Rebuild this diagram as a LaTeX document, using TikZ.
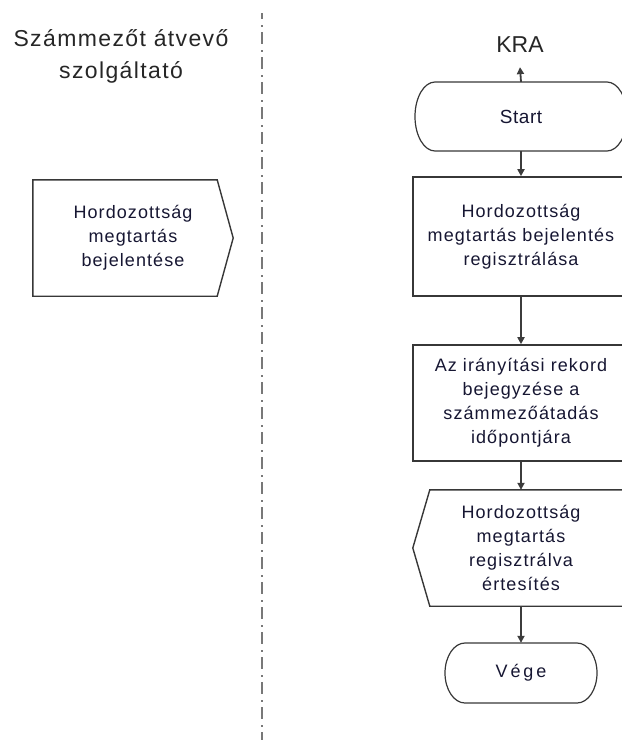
\documentclass[tikz,border=0pt]{standalone}
\usepackage{fontspec}
\setmainfont{Liberation Sans}[LetterSpace=6]
\usetikzlibrary{arrows.meta}
\definecolor{txt}{RGB}{22,22,50}
\definecolor{edge}{RGB}{55,55,55}
\definecolor{conn}{RGB}{60,60,60}
\definecolor{lane}{RGB}{120,120,120}
\begin{document}
\begin{tikzpicture}[x=1pt,y=-1pt,
  boxtext/.style={align=center,text=txt,inner sep=0pt,
    font=\fontsize{18}{24}\selectfont},
  procbox/.style={boxtext,draw=edge,line width=1.6pt,minimum width=216pt},
  shapeline/.style={draw=edge,line width=1.4pt,line join=miter},
  termline/.style={draw=edge,line width=1.2pt},
  arr/.style={draw=conn,line width=1.8pt,-{Triangle[width=7pt,length=7pt]}},
  title/.style={align=center,text=black!85,inner sep=0pt,
    font=\fontsize{23}{32}\selectfont}]
\useasboundingbox (0,0) rectangle (622,740);

% swimlane divider
\draw[lane,line width=2pt,dash pattern=on 12pt off 6pt on 1.5pt off 5.5pt,dash phase=6pt]
  (262,13) -- (262,742);

% titles
\node[title] (lanea) at (121,56) {Számmezőt átvevő\\szolgáltató};
\node[title,inner xsep=0pt,inner ysep=14pt,text depth=0pt] (kra) at (520,45)
  {\addfontfeature{LetterSpace=0}KRA};

% left lane: send signal shape
\node[boxtext,minimum width=200pt,minimum height=116pt] (bej) at (133,238)
  {Hordozottság\\megtartás\\bejelentése};
\draw[shapeline] (bej.north west) -- ([xshift=-16pt]bej.north east) -- (bej.east)
  -- ([xshift=-16pt]bej.south east) -- (bej.south west) -- cycle;

% Start terminator
\node[boxtext,minimum width=212pt,minimum height=69pt,
  font=\fontsize{19}{24}\selectfont\addfontfeature{LetterSpace=3}] (start) at (521,116.5) {Start};
\draw[termline] (435,82) -- (607,82)
  arc[start angle=-90,end angle=90,x radius=20,y radius=34.5]
  -- (435,151) arc[start angle=90,end angle=270,x radius=20,y radius=34.5] -- cycle;

% process boxes
\node[procbox,minimum height=119pt] (reg) at (521,236.5)
  {Hordozottság\\megtartás bejelentés\\regisztrálása};
\node[procbox,minimum height=116pt] (ira) at (521,403)
  {Az irányítási rekord\\bejegyzése a\\számmezőátadás\\időpontjára};

% display / notification shape
\node[boxtext,minimum width=216pt,minimum height=116pt] (ert) at (521,548)
  {Hordozottság\\megtartás\\regisztrálva\\értesítés};
\draw[shapeline] ([xshift=17pt]ert.north west) -- (ert.north east)
  -- (ert.south east) -- ([xshift=17pt]ert.south west) -- (ert.west) -- cycle;

% End terminator
\node[boxtext,minimum width=152pt,minimum height=60pt,
  font=\fontsize{18}{24}\selectfont\addfontfeature{LetterSpace=16}] (vege) at (521,673) {Vége};
\draw[termline] (465,643) -- (577,643)
  arc[start angle=-90,end angle=90,x radius=20,y radius=30]
  -- (465,703) arc[start angle=90,end angle=270,x radius=20,y radius=30] -- cycle;

% connectors
\draw[arr] (start.north) -- (kra.south);
\draw[arr] (start.south) -- (reg.north);
\draw[arr] (reg.south) -- (ira.north);
\draw[arr] (ira.south) -- (ert.north);
\draw[arr] (ert.south) -- (vege.north);
\end{tikzpicture}
\end{document}
